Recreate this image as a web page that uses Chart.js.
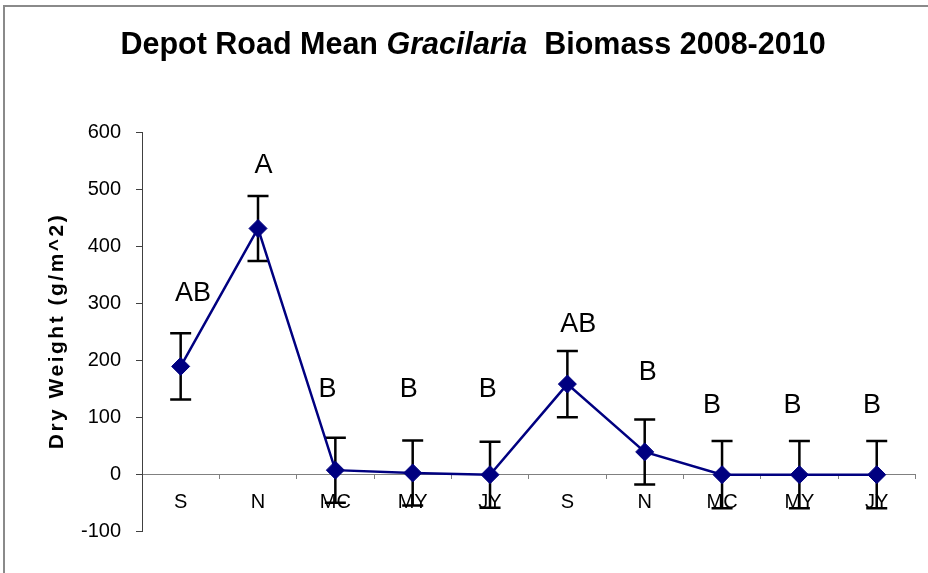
<!DOCTYPE html>
<html><head><meta charset="utf-8">
<script src="https://cdn.jsdelivr.net/npm/chart.js@4.4.1/dist/chart.umd.min.js"></script>
<style>html,body{margin:0;padding:0;background:#fff}#wrap{width:928px;height:573px;position:relative}</style>
</head><body><div id="wrap"><canvas id="c" width="928" height="573"></canvas></div>
<script>
const categories = ['S','N','MC','MY','JY','S','N','MC','MY','JY'];
const meanBiomass = [190, 432, 8, 3, 0, 159, 40, 0, 0, 0];
const stdError = [58, 57, 57, 57, 58, 58, 57, 59, 59, 59];
const groupLetters = ['AB','A','B','B','B','AB','B','B','B','B'];
const letterLevel = [317, 542, 150, 150, 150, 263, 180, 121, 121, 121];
const letterShift = [0.16, 0.07, -0.1, -0.05, -0.03, 0.14, 0.04, -0.13, -0.09, -0.06];
const yTicks = [-100, 0, 100, 200, 300, 400, 500, 600];
const titleParts = [['Depot Road Mean ', false], ['Gracilaria', true], ['  Biomass 2008-2010', false]];
const yTitle = 'Dry Weight (g/m^2)';

const FONT = "'Liberation Sans', Arial, sans-serif";

const framePlugin = {
  id: 'frame',
  beforeDraw(chart) {
    const ctx = chart.ctx;
    ctx.save();
    ctx.fillStyle = '#fff';
    ctx.fillRect(0, 0, chart.width, chart.height);
    ctx.strokeStyle = '#8a8a8a';
    ctx.lineWidth = 2;
    ctx.beginPath();
    ctx.moveTo(4, chart.height);
    ctx.lineTo(4, 6);
    ctx.lineTo(chart.width, 6);
    ctx.stroke();
    ctx.restore();
  }
};

const errorBarPlugin = {
  id: 'errorBars',
  beforeDatasetsDraw(chart) {
    const ctx = chart.ctx, xs = chart.scales.x, ys = chart.scales.y;
    ctx.save();
    ctx.strokeStyle = '#000';
    ctx.lineWidth = 2.5;
    meanBiomass.forEach((m, i) => {
      const x = xs.getPixelForValue(i);
      const yt = ys.getPixelForValue(m + stdError[i]);
      const yb = ys.getPixelForValue(m - stdError[i]);
      ctx.beginPath();
      ctx.moveTo(x, yt); ctx.lineTo(x, yb);
      ctx.moveTo(x - 10.5, yt); ctx.lineTo(x + 10.5, yt);
      ctx.moveTo(x - 10.5, yb); ctx.lineTo(x + 10.5, yb);
      ctx.stroke();
    });
    ctx.restore();
  }
};

const textPlugin = {
  id: 'texts',
  afterDraw(chart) {
    const ctx = chart.ctx, xs = chart.scales.x, ys = chart.scales.y;
    ctx.save();
    ctx.fillStyle = '#000';
    ctx.font = '27px ' + FONT;
    ctx.textAlign = 'center';
    ctx.textBaseline = 'middle';
    groupLetters.forEach((t, i) => {
      ctx.fillText(t, xs.getPixelForValue(i + letterShift[i]), ys.getPixelForValue(letterLevel[i]));
    });
    ctx.textBaseline = 'alphabetic';
    ctx.textAlign = 'left';
    const fonts = titleParts.map(p => (p[1] ? 'italic bold ' : 'bold ') + '30.5px ' + FONT);
    let total = 0;
    const widths = titleParts.map((p, i) => { ctx.font = fonts[i]; const w = ctx.measureText(p[0]).width; total += w; return w; });
    let x = 473 - total / 2;
    titleParts.forEach((p, i) => { ctx.font = fonts[i]; ctx.fillText(p[0], x, 54); x += widths[i]; });
    ctx.translate(57, 331);
    ctx.rotate(-Math.PI / 2);
    ctx.font = 'bold 21px ' + FONT;
    ctx.letterSpacing = '2.5px';
    ctx.textAlign = 'center';
    ctx.textBaseline = 'middle';
    ctx.fillText(yTitle, 0, 0);
    ctx.restore();
  }
};

new Chart(document.getElementById('c'), {
  type: 'line',
  data: {
    labels: categories,
    datasets: [{
      data: meanBiomass,
      borderColor: '#000080',
      backgroundColor: '#000080',
      borderWidth: 2.5,
      pointStyle: 'rectRot',
      pointRadius: 9,
      pointHoverRadius: 9,
      pointBorderWidth: 1,
      tension: 0
    }]
  },
  options: {
    responsive: false,
    animation: false,
    events: [],
    layout: { padding: { left: 0, right: 12.6, top: 132.7, bottom: 41.3 } },
    plugins: { legend: { display: false }, tooltip: { enabled: false }, title: { display: false } },
    scales: {
      x: {
        type: 'category',
        offset: true,
        position: { y: 0 },
        grid: { display: true, offset: true, drawOnChartArea: false, drawTicks: true, tickLength: 4, color: '#808080', lineWidth: 1 },
        border: { display: true, color: '#808080', width: 1 },
        ticks: { color: '#000', font: { family: FONT, size: 20 }, padding: 12, maxRotation: 0, autoSkip: false },
        afterFit(s) { s.height = 0; }
      },
      y: {
        min: -100, max: 600,
        afterBuildTicks(s) { s.ticks = yTicks.map(v => ({ value: v })); },
        ticks: { color: '#000', font: { family: FONT, size: 20 }, padding: 15 },
        grid: { display: true, drawOnChartArea: false, drawTicks: true, tickLength: 6, color: '#404040', lineWidth: 1 },
        border: { display: true, color: '#404040', width: 1 },
        afterFit(s) { s.width = 142; }
      }
    }
  },
  plugins: [framePlugin, errorBarPlugin, textPlugin]
});
</script>
</body></html>
